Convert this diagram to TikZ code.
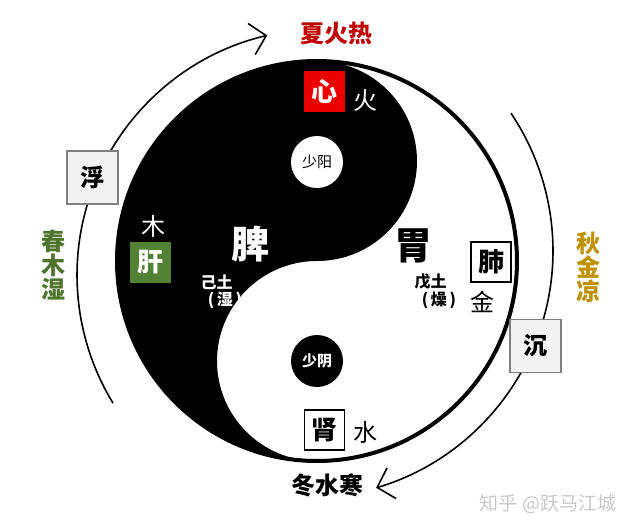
\documentclass[tikz,border=0pt]{standalone}
\usepackage{fontspec}
\setmainfont{Noto Sans CJK SC}
\usetikzlibrary{arrows.meta}

\definecolor{summerred}{RGB}{192,0,0}
\definecolor{heartred}{RGB}{236,0,0}
\definecolor{livergreen}{RGB}{84,130,53}
\definecolor{woodgreen}{RGB}{78,116,46}
\definecolor{autumngold}{RGB}{191,144,0}
\definecolor{boxgray}{RGB}{242,242,242}
\definecolor{edgegray}{RGB}{127,127,127}
\definecolor{markgray}{RGB}{200,200,200}
\newcommand{\fsz}[1]{\fontsize{#1}{#1}\selectfont}

\begin{document}
\begin{tikzpicture}[x=1pt, y=-1pt,
    organ/.style={draw, line width=1.5pt, fill=white, minimum size=40pt,
        inner sep=0pt, font=\fsz{26}\bfseries},
    flowbox/.style={draw=edgegray, line width=1.5pt, fill=boxgray,
        minimum width=51pt, minimum height=53pt, inner sep=0pt, font=\fsz{24}\bfseries},
    season/.style={font=\fsz{24}\bfseries, align=center, inner sep=0pt},
    elem/.style={font=\fsz{24}, inner sep=0pt},
    earth/.style={font=\fsz{16}\bfseries, inner sep=0pt},
    turn/.style={line width=1.6pt, -{Straight Barb[length=15pt,width=32pt]}}]
    \useasboundingbox (0,0) rectangle (633,531);
    \coordinate (O) at (317,261);
    \coordinate (lc) at (323,275);
    \coordinate (rc) at (306,251);
    \draw[turn] (lc) ++(148.6:246) arc[start angle=148.6, end angle=256.9, radius=246];
    \draw[turn] (rc) ++(-33.9:247) arc[start angle=-33.9, end angle=73.5, radius=247];
    \fill[white] (O) circle[radius=200];
    \fill (317,461) arc[start angle=90, end angle=270, radius=100]
        arc[start angle=90, end angle=-90, radius=100]
        arc[start angle=270, end angle=90, radius=200] -- cycle;
    \draw[line width=4pt] (O) circle[radius=200];
    \node[circle, fill=white, minimum size=52pt, inner sep=0pt, font=\fsz{15}]
        (yang) at (317,162) {少阳};
    \node[circle, fill=black, text=white, minimum size=52pt, inner sep=0pt, font=\fsz{15}\bfseries]
        (yin) at (317,361) {少阴};
    \node[organ, fill=heartred, draw=heartred, text=white] (xin) at (324.5,91.5) {心};
    \node[elem, text=white] (huo) at (365,101) {火};
    \node[organ, fill=livergreen, draw=livergreen, text=white] (gan) at (150.5,262.5) {肝};
    \node[elem, text=white] (mu) at (153.5,226) {木};
    \node[organ] (fei) at (491,262) {肺};
    \node[elem] (jin) at (482,302) {金};
    \node[organ] (shen) at (324.5,430) {肾};
    \node[elem] (shui) at (365,432) {水};
    \node[font=\fsz{38}\bfseries, text=white] (pi) at (250,244) {脾};
    \node[font=\fsz{38}\bfseries] (wei) at (413,246) {胃};
    \node[earth, text=white] (ji) at (216.5,282) {己土};
    \node[earth, text=white] (shi) at (225,300) {(\,湿\,)};
    \node[earth] (wu) at (430.5,282) {戊土};
    \node[earth] (zao) at (439,300) {(\,燥\,)};
    \node[flowbox] (fu) at (92.5,177.5) {浮};
    \node[flowbox] (chen) at (535.5,346) {沉};
    \node[season, text=summerred] (xia) at (336,33.5) {夏火热};
    \node[season, text=woodgreen] (chun) at (53.5,265) {春\\木\\湿};
    \node[season, text=autumngold] (qiu) at (588.5,267) {秋\\金\\凉};
    \node[season] (dong) at (327,485) {冬水寒};
    \node[font=\fsz{19}, text=markgray] (mark) at (548,504) {知乎 @跃马江城};
\end{tikzpicture}
\end{document}
